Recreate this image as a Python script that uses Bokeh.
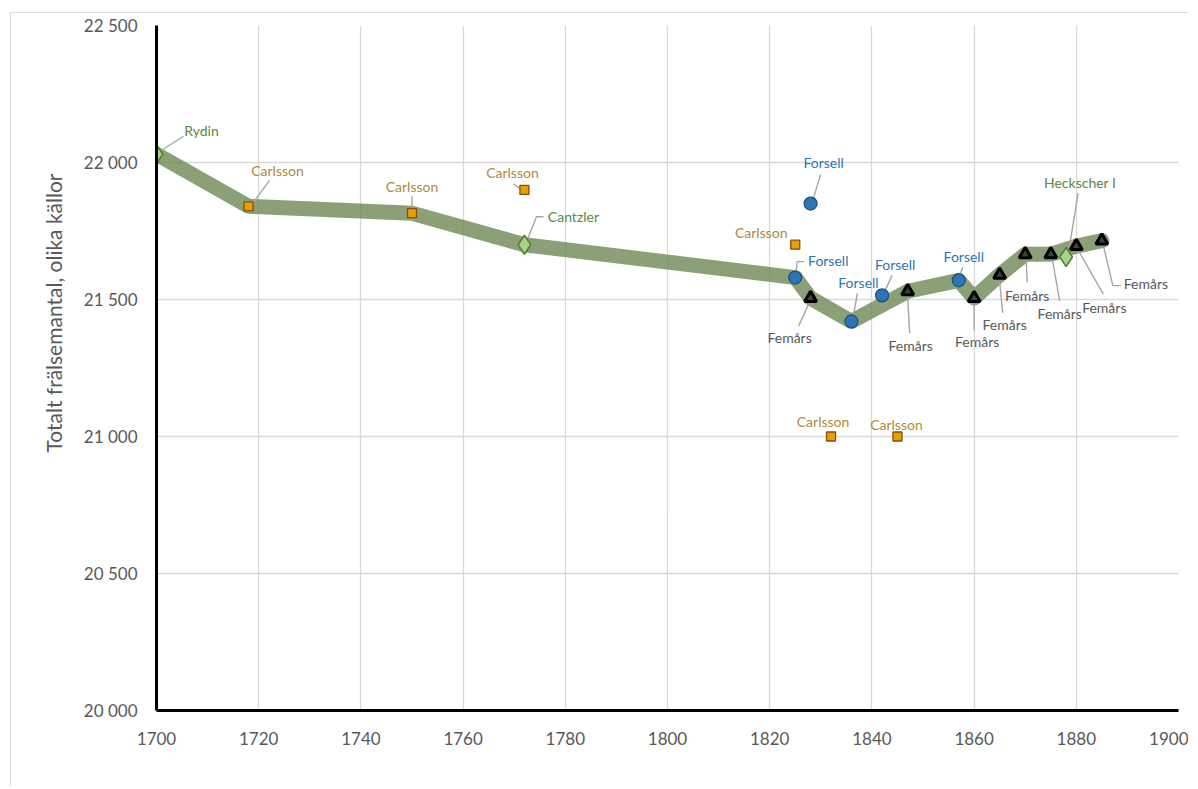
from bokeh.plotting import figure
from bokeh.models import ColumnDataSource, FixedTicker, Title
from bokeh.embed import file_html
from bokeh.resources import INLINE
from bokeh.core.properties import value

# ---------------- data ----------------
trend_year = [1700, 1718, 1750, 1772, 1825, 1828, 1836, 1847, 1857, 1860, 1865, 1870, 1875, 1880, 1885]
trend_value = [22030, 21840, 21815, 21700, 21580, 21505, 21420, 21530, 21570, 21505, 21590, 21665, 21665, 21695, 21715]

carlsson_year = [1718, 1750, 1772, 1825, 1832, 1845]
carlsson_value = [21840, 21815, 21900, 21700, 21000, 21000]

forsell_year = [1825, 1828, 1836, 1842, 1857]
forsell_value = [21580, 21850, 21420, 21515, 21570]

femars_year = [1828, 1847, 1860, 1865, 1870, 1875, 1880, 1885]
femars_value = [21505, 21530, 21505, 21590, 21665, 21665, 21695, 21715]

other_year = [1700, 1772, 1878]
other_value = [22030, 21700, 21655]
other_names = ["Rydin", "Cantzler", "Heckscher I"]

x_ticks = [1700, 1720, 1740, 1760, 1780, 1800, 1820, 1840, 1860, 1880, 1900]
y_ticks = [20000, 20500, 21000, 21500, 22000, 22500]
y_tick_labels = ["20 000", "20 500", "21 000", "21 500", "22 000", "22 500"]
y_title = "Totalt frälsemantal, olika källor"

# ---------------- style / label placement (screen px offsets) ----------------
FW, FH = 1022, 685
X0, X1, Y0, Y1 = 1700, 1900, 20000, 22500
PPX = FW / (X1 - X0)
PPY = FH / (Y1 - Y0)

carlsson_lab = [(29, -36), (0, -27), (-12, -17), (-34, -12), (-8, -15), (-1, -12)]
carlsson_lead = [[(21, -26), (5, -4)], [(0, -17), (0, -6)], [(-11, -6), (-4, -1)], None, None, None]
forsell_lab = [(33, -17), (13, -41), (7, -39), (13, -31), (5, -24)]
forsell_lead = [[(9, -16), (2, -16), (1, -7)], [(10, -29), (3, -6)], [(6, -28), (2, -6)],
                [(10, -20), (3, -5)], [(4, -13), (1, -5)]]
femars_lab = [(-21, 39), (3, 54), (3, 43), (5, 50), (2, 41), (9, 59), (28, 61), (44, 43)]
femars_lead = [[(-12, 28), (-2, 6)], [(2, 42), (0, 6)], [(0, 32), (0, 6)], [(3, 38), (0, 7)],
               [(2, 28), (1, 7)], [(9, 47), (2, 7)], [(27, 48), (3, 6)],
               [(19, 45), (11, 45), (2, 7)]]
other_lab = [(45, -24), (49, -28), (14, -75)]
other_lead = [[(27, -18), (5, -4)], [(19, -28), (12, -28), (3, -5)], [(12, -64), (3, -8)]]

FONT = "Lato"
GREY_TXT = "#595959"

p = figure(frame_width=FW, frame_height=FH, x_range=(X0, X1), y_range=(Y0, Y1),
           output_backend="svg", toolbar_location=None,
           min_border_left=145, min_border_top=12, min_border_right=10, min_border_bottom=76,
           margin=(12, 0, 0, 10))
p.styles = {"border-left": "1px solid #d9d9d9", "border-top": "1px solid #d9d9d9"}
p.outline_line_color = None
p.background_fill_color = "white"
p.border_fill_color = "white"

# grid
p.xgrid.ticker = FixedTicker(ticks=x_ticks)
p.ygrid.ticker = FixedTicker(ticks=y_ticks)
for g in (p.xgrid, p.ygrid):
    g.grid_line_color = "#d9d9d9"
    g.grid_line_width = 1.3

# axes
p.xaxis.ticker = FixedTicker(ticks=x_ticks)
p.yaxis.ticker = FixedTicker(ticks=y_ticks)
p.yaxis.major_label_overrides = {t: l for t, l in zip(y_ticks, y_tick_labels)}
p.xaxis.major_label_overrides = {t: str(t) for t in x_ticks}
for ax in (p.xaxis, p.yaxis):
    ax.axis_line_color = "black"
    ax.axis_line_width = 3
    ax.major_tick_line_color = None
    ax.minor_tick_line_color = None
    ax.major_label_text_font = FONT
    ax.major_label_text_font_size = "17px"
    ax.major_label_text_color = GREY_TXT
p.xaxis.major_label_standoff = 15
p.yaxis.major_label_standoff = 13

# y-axis title as a side title (placed off-centre like the original)
p.add_layout(Title(text=y_title, align="right", offset=148, standoff=30,
                   text_font=FONT, text_font_size="21px", text_font_style="normal",
                   text_color=GREY_TXT), "left")

# thick trend band
p.line(trend_year, trend_value, line_width=15, line_color="#718b59", line_alpha=0.82,
       line_join="round", line_cap="round")


def leaders(xs, ys, leads):
    lx, ly = [], []
    for x, y, ld in zip(xs, ys, leads):
        if ld is None:
            continue
        lx.append([x + dx / PPX for dx, dy in ld])
        ly.append([y - dy / PPY for dx, dy in ld])
    return lx, ly


all_lx, all_ly = [], []
for xs, ys, ld in ((carlsson_year, carlsson_value, carlsson_lead),
                   (forsell_year, forsell_value, forsell_lead),
                   (femars_year, femars_value, femars_lead),
                   (other_year, other_value, other_lead)):
    a, b = leaders(xs, ys, ld)
    all_lx += a
    all_ly += b
p.multi_line(all_lx, all_ly, line_color="#a6a6a6", line_width=1.4)

# markers
p.scatter(carlsson_year, carlsson_value, marker="square", size=9,
          fill_color="#e6a100", line_color="#8a4b0f", line_width=1.3)
p.scatter(forsell_year, forsell_value, marker="circle", size=13,
          fill_color="#2e75b6", line_color="#1f4e79", line_width=1.2)
p.scatter(femars_year, femars_value, marker="triangle", size=12,
          fill_color="#404040", line_color="black", line_width=3)
p.scatter(other_year, other_value, marker="diamond", size=19,
          fill_color="#a9d18e", line_color="#548235", line_width=1.6)


def add_labels(xs, ys, texts, offs, color):
    src = ColumnDataSource(dict(x=xs, y=ys, t=texts,
                                dx=[o[0] for o in offs], dy=[o[1] for o in offs]))
    p.text("x", "y", text="t", x_offset="dx", y_offset="dy", source=src,
           text_font=value(FONT), text_font_size="14px", text_color=color,
           text_align="center", text_baseline="middle")


add_labels(carlsson_year, carlsson_value, ["Carlsson"] * len(carlsson_year), carlsson_lab, "#b08a3a")
add_labels(forsell_year, forsell_value, ["Forsell"] * len(forsell_year), forsell_lab, "#2e75b6")
add_labels(femars_year, femars_value, ["Femårs"] * len(femars_year), femars_lab, GREY_TXT)
add_labels(other_year, other_value, other_names, other_lab, "#5a8a3c")

open("out.html", "w").write(file_html(p, INLINE))
